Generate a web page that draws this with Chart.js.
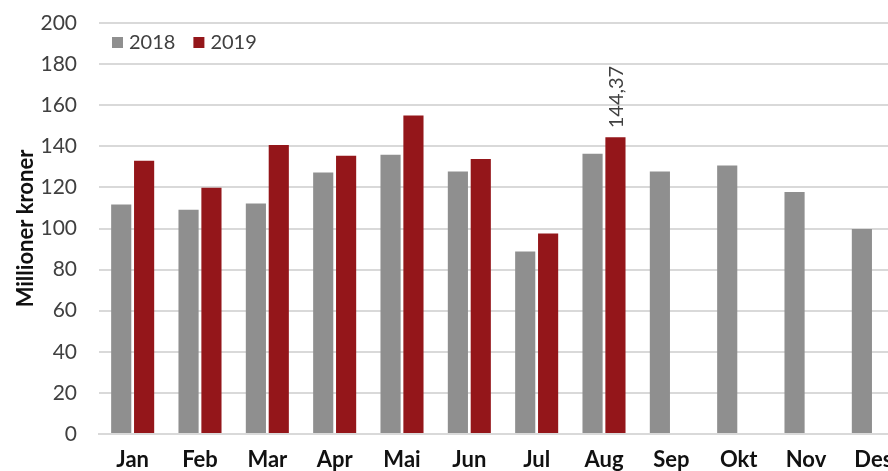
<!DOCTYPE html>
<html>
<head>
<meta charset="utf-8">
<script src="https://cdn.jsdelivr.net/npm/chart.js@4/dist/chart.umd.min.js"></script>
<style>
  html, body { margin: 0; padding: 0; background: #fff; overflow: hidden; }
  #wrap { width: 912px; height: 471px; }
</style>
</head>
<body>
<div id="wrap"><canvas id="chart"></canvas></div>
<script>
const months = ["Jan", "Feb", "Mar", "Apr", "Mai", "Jun", "Jul", "Aug", "Sep", "Okt", "Nov", "Des"];
const sales2018 = [111.7, 109.1, 112.2, 127.2, 135.9, 127.7, 88.8, 136.4, 127.7, 130.7, 117.8, 99.7];
const sales2019 = [133.0, 119.8, 140.6, 135.4, 155.0, 133.8, 97.6, 144.37, null, null, null, null];
const yTicks = [0, 20, 40, 60, 80, 100, 120, 140, 160, 180, 200];

const FONT = "Lato, 'Noto Sans', sans-serif";

// legend drawn inside the plot area, top left
const innerLegend = {
  id: "innerLegend",
  afterDraw(chart) {
    const ctx = chart.ctx;
    const area = chart.chartArea;
    let x = area.left + 13;
    const y = area.top + 19;
    ctx.save();
    ctx.font = "20px " + FONT;
    ctx.textBaseline = "middle";
    chart.data.datasets.forEach(ds => {
      ctx.fillStyle = ds.backgroundColor;
      ctx.fillRect(x, y - 5, 11, 11);
      ctx.fillStyle = "#404040";
      ctx.fillText(ds.label, x + 17, y + 1);
      x += 17 + ctx.measureText(ds.label).width + 18;
    });
    ctx.restore();
  }
};

// vertical value label above the last 2019 bar
const augLabel = {
  id: "augLabel",
  afterDatasetsDraw(chart) {
    const idx = 7;
    const bar = chart.getDatasetMeta(1).data[idx];
    if (!bar) return;
    const ctx = chart.ctx;
    ctx.save();
    ctx.translate(bar.x + 1, bar.y - 9);
    ctx.rotate(-Math.PI / 2);
    ctx.font = "20px " + FONT;
    ctx.fillStyle = "#404040";
    ctx.textAlign = "left";
    ctx.textBaseline = "middle";
    ctx.fillText(sales2019[idx].toFixed(2).replace(".", ","), 0, 0);
    ctx.restore();
  }
};

new Chart(document.getElementById("chart"), {
  type: "bar",
  data: {
    labels: months,
    datasets: [
      { label: "2018", data: sales2018, backgroundColor: "#8f8f8f" },
      { label: "2019", data: sales2019, backgroundColor: "#94161a" }
    ]
  },
  options: {
    responsive: true,
    maintainAspectRatio: false,
    animation: false,
    categoryPercentage: 0.68,
    barPercentage: 0.88,
    layout: { padding: { top: 23, right: 5, left: 0, bottom: 0 } },
    plugins: {
      legend: { display: false },
      tooltip: { enabled: false }
    },
    scales: {
      x: {
        afterFit(axis) { axis.height = 37; axis.paddingLeft = 0; axis.paddingRight = 0; },
        grid: { display: false, drawTicks: false },
        border: { color: "#d9d9d9", width: 2 },
        ticks: {
          padding: 13,
          color: "#111",
          font: { family: FONT, size: 22, weight: "bold" }
        }
      },
      y: {
        min: 0,
        max: 200,
        afterBuildTicks(axis) { axis.ticks = yTicks.map(v => ({ value: v })); },
        afterFit(axis) { axis.width = 99; axis.paddingTop = 0; axis.paddingBottom = 0; },
        grid: { color: "#d9d9d9", lineWidth: 2, drawTicks: false },
        border: { display: false },
        ticks: {
          padding: 22,
          color: "#404040",
          font: { family: FONT, size: 21 }
        },
        title: {
          display: true,
          text: "Millioner kroner",
          color: "#111",
          padding: { top: 13, bottom: 0 },
          font: { family: FONT, size: 22, weight: "bold" }
        }
      }
    }
  },
  plugins: [innerLegend, augLabel]
});
</script>
</body>
</html>
